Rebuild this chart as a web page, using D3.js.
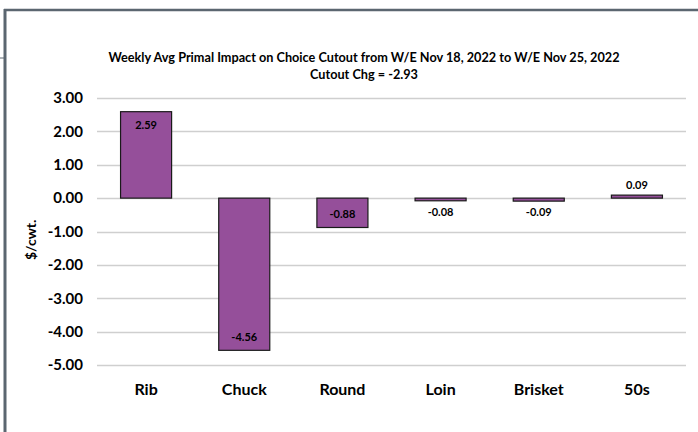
<!DOCTYPE html>
<html lang="en">
<head>
<meta charset="UTF-8">
<title>Weekly Avg Primal Impact on Choice Cutout</title>
<script src="https://d3js.org/d3.v7.min.js"></script>
<style>
  body { margin: 0; background: #fff; }
  svg { display: block; font-family: Lato, "Open Sans", sans-serif; }
</style>
</head>
<body>
<script>
// chart data
const categories = ["Rib", "Chuck", "Round", "Loin", "Brisket", "50s"];
const values = [2.59, -4.56, -0.88, -0.08, -0.09, 0.09];
const yTicks = [3, 2, 1, 0, -1, -2, -3, -4, -5];
const titleLines = [
  "Weekly Avg Primal Impact on Choice Cutout from W/E Nov 18, 2022 to W/E Nov 25, 2022",
  "Cutout Chg = -2.93"
];
const yTitle = "$/cwt.";

const W = 698, H = 432;
const margin = { left: 97, right: 12, top: 98, bottom: 67 };

// plain hyphen for negatives, like the source chart
const fmt = d3.formatLocale({ decimal: ".", thousands: ",", grouping: [3], currency: ["$", ""], minus: "-" }).format(".2f");

const svg = d3.select("body").append("svg")
  .attr("width", W)
  .attr("height", H);

// outer frame (top + left edge of the pasted chart)
svg.append("line").attr("x1", 4).attr("x2", W).attr("y1", 10).attr("y2", 10)
  .attr("stroke", "#5b6670").attr("stroke-width", 2.5);
svg.append("line").attr("x1", 5).attr("x2", 5).attr("y1", 9).attr("y2", H)
  .attr("stroke", "#5b6670").attr("stroke-width", 3);
svg.append("line").attr("x1", 0).attr("x2", 4).attr("y1", 58).attr("y2", 58)
  .attr("stroke", "#5b6670").attr("stroke-width", 1);

const x = d3.scaleBand()
  .domain(categories)
  .range([margin.left, W - margin.right])
  .paddingInner(0.48)
  .paddingOuter(0.24);

const y = d3.scaleLinear()
  .domain([-5, 3])
  .range([H - margin.bottom, margin.top]);

// gridlines
svg.append("g")
  .selectAll("line")
  .data(yTicks)
  .join("line")
  .attr("x1", margin.left)
  .attr("x2", W - margin.right)
  .attr("y1", d => Math.round(y(d)) + 0.5)
  .attr("y2", d => Math.round(y(d)) + 0.5)
  .attr("stroke", "#cfcfcf")
  .attr("stroke-width", 1.5);

// y axis labels
const yAxis = svg.append("g")
  .attr("transform", `translate(${margin.left - 14},0)`)
  .call(d3.axisLeft(y).tickValues(yTicks).tickFormat(fmt).tickSize(0).tickPadding(0));
yAxis.select(".domain").remove();
yAxis.selectAll("text")
  .attr("font-family", "Lato, sans-serif")
  .attr("font-size", 15)
  .attr("font-weight", "bold")
  .attr("fill", "#000");

// bars
svg.append("g")
  .selectAll("rect")
  .data(values)
  .join("rect")
  .attr("x", (d, i) => x(categories[i]))
  .attr("width", x.bandwidth())
  .attr("y", d => y(Math.max(0, d)))
  .attr("height", d => Math.abs(y(d) - y(0)))
  .attr("fill", "#954f9a")
  .attr("stroke", "#1a1a1a")
  .attr("stroke-width", 1.2);

// data labels: inside end when the bar is tall enough, otherwise outside end
svg.append("g")
  .selectAll("text")
  .data(values)
  .join("text")
  .attr("x", (d, i) => x(categories[i]) + x.bandwidth() / 2)
  .attr("y", d => {
    const h = Math.abs(y(d) - y(0));
    if (h > 20) return d > 0 ? y(d) + 13 : y(d) - 13;
    return d > 0 ? y(d) - 10 : y(d) + 11;
  })
  .attr("dy", "0.35em")
  .attr("text-anchor", "middle")
  .attr("font-size", 11)
  .attr("font-weight", "bold")
  .attr("fill", "#000")
  .text(d => fmt(d));

// category labels
svg.append("g")
  .selectAll("text")
  .data(categories)
  .join("text")
  .attr("x", d => x(d) + x.bandwidth() / 2)
  .attr("y", 389)
  .attr("dy", "0.35em")
  .attr("text-anchor", "middle")
  .attr("font-size", 16)
  .attr("font-weight", "bold")
  .text(d => d);

// titles
svg.append("g")
  .selectAll("text")
  .data(titleLines)
  .join("text")
  .attr("x", 364)
  .attr("y", (d, i) => 58 + i * 17)
  .attr("dy", "0.35em")
  .attr("text-anchor", "middle")
  .attr("font-size", 12.7)
  .attr("font-weight", "bold")
  .text(d => d);

svg.append("text")
  .attr("transform", `translate(31,${y(-1.25)}) rotate(-90)`)
  .attr("text-anchor", "middle")
  .attr("dy", "0.35em")
  .attr("font-size", 14)
  .attr("font-weight", "bold")
  .text(yTitle);
</script>
</body>
</html>
